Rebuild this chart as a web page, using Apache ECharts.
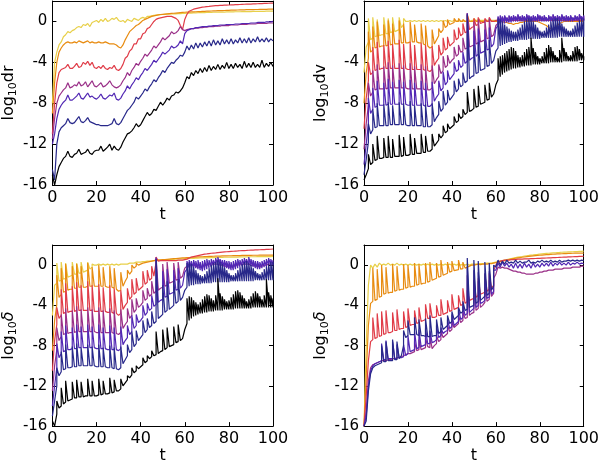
<!DOCTYPE html>
<html>
<head>
<meta charset="utf-8">
<script src="https://cdn.jsdelivr.net/npm/echarts@6/dist/echarts.min.js"></script>
<style>
  html, body { margin: 0; padding: 0; background: #fff; }
  #chart { width: 602px; height: 465px; }
</style>
</head>
<body>
<div id="chart"></div>
<script>
// sample times t = 0..100, one per unit
const t = Array.from({ length: 101 }, (_, i) => i);

const yTicks = [-16, -12, -8, -4, 0];
const xTicks = [0, 20, 40, 60, 80, 100];

// ---------- panel 1: log10 dr ----------
const dr_k = [
  -15, -16, -15, -14.2, -13.8, -13.4, -13.2, -12.7, -13.2, -13.3,
  -13.0, -12.9, -12.5, -13.0, -12.9, -12.8, -12.5, -12.9, -13.0, -12.7,
  -12.6, -12.6, -12.2, -12.7, -12.5, -12.3, -12.0, -12.6, -12.2, -12.5,
  -12.6, -12.3, -11.8, -11.4, -11.0, -10.9, -10.7, -10.4, -10.0, -10.3,
  -10.1, -9.7, -9.3, -8.9, -9.2, -9.0, -8.6, -8.7, -8.3, -7.9,
  -8.2, -7.9, -7.5, -7.7, -7.3, -7.2, -6.9, -7.0, -6.8, -6.5,
  -6.0, -5.4, -5.6, -5.0, -5.3, -4.8, -5.1, -4.6, -5.0, -4.5,
  -4.9, -4.3, -4.8, -4.4, -4.7, -4.2, -4.7, -4.3, -4.6, -4.0,
  -4.6, -4.2, -4.6, -4.1, -4.5, -4.2, -4.6, -3.9, -4.5, -4.1,
  -4.5, -4.0, -4.5, -4.2, -4.5, -3.8, -4.5, -4.1, -4.4, -4.0,
  -4.4
];
const dr_b = [
  -14.5, -15.5, -12.0, -10.8, -10.4, -10.2, -10.0, -9.5, -9.9, -10.0,
  -9.9, -9.6, -9.3, -9.8, -9.9, -9.7, -9.4, -9.8, -9.9, -10.0,
  -10.1, -10.1, -10.2, -10.2, -10.2, -10.2, -10.1, -10.0, -9.5, -10.0,
  -10.1, -9.9, -9.5, -9.1, -8.7, -8.5, -8.2, -7.9, -7.4, -7.6,
  -7.3, -7.0, -6.6, -6.8, -6.4, -6.1, -5.7, -5.9, -5.5, -5.2,
  -4.8, -5.0, -4.6, -4.3, -4.0, -4.1, -3.8, -3.6, -3.3, -3.4,
  -3.0, -2.4, -2.8, -2.3, -2.7, -2.1, -2.6, -2.1, -2.5, -2.0,
  -2.4, -1.9, -2.4, -1.8, -2.3, -1.9, -2.3, -1.7, -2.2, -1.8,
  -2.2, -1.7, -2.2, -1.8, -2.1, -1.6, -2.1, -1.7, -2.1, -1.6,
  -2.1, -1.7, -2.0, -1.5, -2.0, -1.7, -2.0, -1.6, -2.0, -1.7,
  -1.9
];
const dr_v = [
  -12, -11, -9.5, -8.6, -8.2, -7.9, -7.7, -7.2, -7.7, -7.7,
  -7.5, -7.3, -7.0, -7.5, -7.6, -7.3, -7.0, -7.4, -7.3, -7.5,
  -7.6, -7.4, -7.1, -7.5, -7.6, -7.4, -7.2, -7.3, -7.0, -7.6,
  -7.7, -7.5, -7.1, -6.8, -6.3, -6.6, -6.2, -5.9, -5.5, -5.7,
  -5.3, -5.0, -4.6, -4.8, -4.5, -4.2, -3.8, -4.0, -3.7, -3.4,
  -3.0, -3.2, -3.0, -2.8, -2.4, -2.6, -2.5, -2.3, -1.9, -2.2,
  -1.2, -0.9, -0.8, -0.7, -0.7, -0.6, -0.6, -0.55, -0.5, -0.5,
  -0.5, -0.45, -0.45, -0.4, -0.4, -0.4, -0.35, -0.35, -0.35, -0.3,
  -0.3, -0.3, -0.3, -0.25, -0.25, -0.25, -0.2, -0.2, -0.2, -0.2,
  -0.15, -0.15, -0.15, -0.1, -0.1, -0.1, -0.1, -0.05, -0.05, -0.05,
  0
];
const dr_m = [
  -11.5, -9.5, -8.0, -7.3, -7.0, -6.7, -6.5, -6.0, -6.5, -6.4,
  -6.2, -6.3, -5.9, -6.3, -6.2, -5.9, -6.4, -6.1, -5.8, -6.3,
  -6.4, -6.2, -6.0, -6.4, -6.3, -6.1, -5.8, -6.2, -6.4, -6.5,
  -6.4, -6.2, -5.8, -5.5, -5.0, -5.3, -4.8, -4.5, -4.1, -4.3,
  -3.9, -3.6, -3.2, -3.4, -3.1, -2.8, -2.4, -2.6, -2.3, -2.0,
  -1.6, -1.8, -1.6, -1.4, -1.0, -1.2, -1.1, -0.9, -0.5, -0.8,
  -0.9, -0.8, -0.75, -0.7, -0.7, -0.65, -0.65, -0.6, -0.6, -0.55,
  -0.55, -0.5, -0.5, -0.5, -0.45, -0.45, -0.45, -0.4, -0.4, -0.4,
  -0.4, -0.35, -0.35, -0.35, -0.35, -0.3, -0.3, -0.3, -0.3, -0.25,
  -0.25, -0.25, -0.25, -0.2, -0.2, -0.2, -0.2, -0.2, -0.15, -0.15,
  -0.15
];
const dr_r = [
  -11, -8, -6, -5, -4.7, -4.6, -4.5, -4.2, -4.6, -4.6,
  -4.4, -4.1, -4.5, -4.4, -4.0, -4.2, -3.9, -4.3, -4.0, -4.5,
  -4.6, -4.4, -4.6, -4.3, -4.6, -4.7, -4.5, -4.6, -4.3, -4.7,
  -4.8, -4.6, -4.2, -3.6, -3.4, -2.9, -2.7, -2.2, -2.2, -1.7,
  -1.7, -1.2, -1.1, -0.7, -0.6, -0.3, 0.0, 0.2, 0.3, 0.35,
  0.4, 0.45, 0.5, 0.5, 0.5, 0.4, 0.3, 0.1, -0.4, -0.8,
  0.2, 0.7, 1.0, 1.1, 1.2, 1.25, 1.3, 1.35, 1.4, 1.42,
  1.45, 1.47, 1.5, 1.52, 1.54, 1.55, 1.57, 1.58, 1.59, 1.6,
  1.61, 1.62, 1.63, 1.64, 1.65, 1.66, 1.67, 1.68, 1.69, 1.7,
  1.7, 1.71, 1.72, 1.73, 1.74, 1.75, 1.76, 1.77, 1.78, 1.79,
  1.8
];
const dr_o = [
  -9, -6, -4, -3, -2.6, -2.3, -2.1, -2.0, -2.1, -2.1,
  -2.0, -2.1, -1.9, -2.0, -2.1, -2.0, -1.9, -2.1, -2.0, -2.1,
  -2.1, -2.0, -2.1, -2.1, -2.0, -2.1, -2.2, -2.2, -2.2, -2.3,
  -2.5, -2.6, -2.3, -1.8, -1.4, -1.0, -0.8, -0.6, -0.4, -0.3,
  -0.1, 0.1, 0.2, 0.3, 0.4, 0.5, 0.55, 0.6, 0.65, 0.68,
  0.7, 0.72, 0.74, 0.76, 0.78, 0.8, 0.82, 0.84, 0.86, 0.88,
  0.9, 0.91, 0.92, 0.93, 0.94, 0.95, 0.96, 0.97, 0.98, 0.99,
  1.0, 1.01, 1.02, 1.03, 1.04, 1.05, 1.06, 1.06, 1.07, 1.08,
  1.09, 1.1, 1.1, 1.11, 1.12, 1.13, 1.13, 1.14, 1.15, 1.15,
  1.16, 1.16, 1.17, 1.17, 1.18, 1.18, 1.19, 1.19, 1.2, 1.2,
  1.2
];
const dr_y = [
  -8, -4, -3, -2.3, -2.0, -1.5, -1.3, -1.0, -1.1, -0.9,
  -0.8, -0.6, -0.5, -0.6, -0.3, -0.4, -0.2, -0.5, -0.1, 0.0,
  0.1, -0.1, 0.2, 0.0, 0.3, 0.0, 0.1, 0.3, 0.2, 0.4,
  0.1, 0.0, 0.1, -0.1, 0.2, 0.1, 0.0, 0.3, 0.2, 0.1,
  0.3, 0.4, 0.3, 0.5, 0.5, 0.55, 0.6, 0.62, 0.64, 0.66,
  0.68, 0.7, 0.71, 0.72, 0.73, 0.74, 0.75, 0.76, 0.77, 0.78,
  0.79, 0.8, 0.81, 0.82, 0.83, 0.84, 0.85, 0.86, 0.86, 0.87,
  0.88, 0.88, 0.89, 0.9, 0.9, 0.91, 0.91, 0.92, 0.92, 0.93,
  0.93, 0.94, 0.94, 0.95, 0.95, 0.95, 0.96, 0.96, 0.97, 0.97,
  0.97, 0.98, 0.98, 0.98, 0.99, 0.99, 0.99, 1.0, 1.0, 1.0,
  1.0
];

// spike times shared by panels 2 and 3 (early kicks, then one per unit after t = 60)
const spikeT = [
  2, 4, 6, 9, 11, 13, 16, 18, 21, 23, 26, 28, 31, 34, 36, 38, 41, 43, 45, 47, 50, 52, 55, 57,
  61, 62, 63, 64, 65, 66, 67, 68, 69, 70, 71, 72, 73, 74, 75, 76, 77, 78, 79, 80,
  81, 82, 83, 84, 85, 86, 87, 88, 89, 90, 91, 92, 93, 94, 95, 96, 97, 98, 99, 100
];

// ---------- panel 2: log10 dv (baseline + spike peaks) ----------
const dv_k = [
  -15.5, -15.0, -14.4, -14.0, -13.8, -13.6, -13.5, -13.4, -13.4, -13.3,
  -13.3, -13.3, -13.3, -13.3, -13.2, -13.2, -13.2, -13.2, -13.1, -13.1,
  -13.1, -13.0, -13.0, -13.0, -12.9, -12.9, -12.9, -12.8, -12.8, -12.7,
  -12.7, -12.5, -12.2, -11.9, -11.6, -11.4, -11.1, -10.9, -10.7, -10.5,
  -10.3, -10.1, -9.9, -9.7, -9.5, -9.3, -9.1, -8.9, -8.8, -8.7,
  -8.5, -8.4, -8.3, -8.1, -8.0, -7.9, -7.7, -7.6, -7.4, -7.1,
  -6.2, -5.7, -5.4, -5.2, -5.0, -4.9, -4.8, -4.7, -4.6, -4.6,
  -4.5, -4.5, -4.4, -4.4, -4.3, -4.3, -4.3, -4.2, -4.2, -4.2,
  -4.2, -4.1, -4.1, -4.1, -4.1, -4.0, -4.0, -4.0, -4.0, -4.0,
  -4.0, -3.9, -3.9, -3.9, -3.9, -3.9, -3.9, -3.9, -3.8, -3.8,
  -3.8
];
const dv_k_pk = [
  -13.0, -12.0, -11.2, -11.4, -11.2, -11.5, -11.1, -11.3, -11.0, -11.4, -11.0, -11.2,
  -11.0, -11.0, -10.2, -10.0, -9.3, -9.0, -8.6, -6.9, -6.6, -6.3, -6.2, -6.0,
  -3.6, -3.4, -3.3, -3.1, -2.9, -2.7, -2.5, -2.6, -2.9, -3.3,
  -3.5, -3.3, -3.0, -2.7, -2.5, -1.6, -2.6, -3.0, -3.4, -3.6,
  -3.4, -3.0, -2.6, -2.3, -2.5, -2.9, -3.3, -3.5, -2.8, -1.6,
  -2.6, -3.0, -3.4, -3.3, -2.9, -2.5, -2.4, -2.7, -3.1, -3.4
];
const dv_b = [
  -15.0, -13.5, -11.8, -11.0, -10.6, -10.4, -10.3, -10.2, -10.2, -10.2,
  -10.2, -10.2, -10.1, -10.1, -10.1, -10.1, -10.1, -10.1, -10.1, -10.1,
  -10.2, -10.2, -10.2, -10.2, -10.2, -10.2, -10.2, -10.3, -10.3, -10.3,
  -10.3, -10.1, -9.8, -9.4, -9.1, -8.8, -8.5, -8.2, -7.9, -7.7,
  -7.4, -7.1, -6.9, -6.6, -6.4, -6.2, -6.0, -5.8, -5.6, -5.4,
  -5.3, -5.1, -5.0, -4.8, -4.7, -4.6, -4.4, -4.3, -4.1, -3.8,
  -2.9, -2.6, -2.4, -2.3, -2.2, -2.1, -2.0, -2.0, -1.9, -1.9,
  -1.9, -1.8, -1.8, -1.8, -1.8, -1.7, -1.7, -1.7, -1.7, -1.7,
  -1.7, -1.6, -1.6, -1.6, -1.6, -1.6, -1.6, -1.6, -1.6, -1.5,
  -1.5, -1.5, -1.5, -1.5, -1.5, -1.5, -1.5, -1.5, -1.5, -1.5,
  -1.5
];
const dv_b_pk = [
  -10.0, -8.6, -8.0, -8.1, -7.9, -8.2, -7.9, -8.0, -7.8, -8.2, -8.0, -8.1,
  -8.0, -7.8, -6.8, -6.7, -5.8, -5.6, -5.0, 0.7, -2.3, -2.0, -1.9, -1.8,
  0.3, 0.2, 0.0, -0.3, -0.5, -0.7, -0.9, -1.0, -1.0, -0.8,
  -0.6, -0.3, 0.0, 0.2, 0.3, 0.2, 0.0, -0.3, -0.6, -0.9,
  -1.0, -0.9, -0.6, -0.3, 0.0, 0.2, 0.3, 0.3, 0.1, -0.2,
  -0.5, -0.7, -0.9, -0.9, -0.7, -0.4, -0.1, 0.1, 0.3, 0.3
];
const dv_v = [
  -14.0, -12.0, -10.0, -9.0, -8.6, -8.4, -8.3, -8.2, -8.2, -8.2,
  -8.2, -8.1, -8.1, -8.1, -8.1, -8.1, -8.1, -8.1, -8.1, -8.1,
  -8.2, -8.2, -8.2, -8.2, -8.2, -8.2, -8.2, -8.2, -8.3, -8.3,
  -8.3, -8.1, -7.8, -7.4, -7.1, -6.8, -6.5, -6.2, -5.9, -5.7,
  -5.4, -5.1, -4.9, -4.7, -4.5, -4.3, -4.1, -3.9, -3.8, -3.6,
  -3.5, -3.4, -3.2, -3.1, -3.0, -2.9, -2.8, -2.7, -2.5, -2.2,
  -0.7, -0.4, -0.3, -0.2, -0.2, -0.1, -0.1, -0.1, 0.0, 0.0,
  0.0, 0.0, 0.0, 0.0, 0.0, 0.0, 0.0, 0.0, 0.0, 0.0,
  0.0, 0.0, 0.0, 0.0, 0.0, 0.0, 0.0, 0.0, 0.0, 0.0,
  0.0, 0.0, 0.0, 0.0, 0.0, 0.0, 0.1, 0.1, 0.1, 0.1,
  0.1
];
const dv_v_pk = [
  -7.5, -6.5, -5.8, -6.0, -5.6, -5.9, -5.7, -5.9, -5.7, -6.0, -5.8, -6.0,
  -5.9, -5.8, -4.9, -4.8, -4.0, -3.8, -3.0, 0.8, -0.9, -0.7, -0.8, -0.6,
  0.5, 0.6, 0.5, 0.6, 0.4, 0.6, 0.5, 0.6, 0.5, 0.7,
  0.5, 0.6, 0.5, 0.7, 0.6, 0.5, 0.6, 0.5, 0.7, 0.6,
  0.5, 0.6, 0.4, 0.6, 0.5, 0.7, 0.5, 0.6, 0.5, 0.7,
  0.5, 0.6, 0.5, 0.6, 0.4, 0.6, 0.5, 0.7, 0.5, 0.6
];
const dv_m = [
  -12.5, -10.0, -8.2, -7.3, -6.9, -6.7, -6.6, -6.6, -6.6, -6.6,
  -6.6, -6.5, -6.5, -6.5, -6.5, -6.5, -6.5, -6.5, -6.5, -6.5,
  -6.6, -6.6, -6.6, -6.6, -6.6, -6.6, -6.6, -6.6, -6.7, -6.7,
  -6.7, -6.5, -6.1, -5.7, -5.4, -5.1, -4.8, -4.5, -4.3, -4.1,
  -3.8, -3.6, -3.4, -3.2, -3.0, -2.9, -2.7, -2.6, -2.5, -2.4,
  -2.3, -2.2, -2.1, -2.0, -1.9, -1.8, -1.7, -1.6, -1.5, -1.3,
  -0.4, -0.2, -0.1, -0.1, 0.0, 0.0, 0.0, 0.1, 0.1, 0.1,
  0.1, 0.1, 0.1, 0.1, 0.1, 0.1, 0.1, 0.1, 0.1, 0.1,
  0.1, 0.1, 0.1, 0.1, 0.1, 0.1, 0.1, 0.1, 0.1, 0.1,
  0.1, 0.1, 0.1, 0.1, 0.1, 0.1, 0.1, 0.1, 0.1, 0.1,
  0.1
];
const dv_m_pk = [
  -6.0, -4.8, -4.2, -4.4, -4.0, -4.3, -4.1, -4.3, -4.1, -4.4, -4.2, -4.4,
  -4.3, -4.2, -3.4, -3.3, -2.5, -2.3, -1.6, 0.8, 0.0, 0.2, 0.1, 0.3,
  0.4, 0.5, 0.4, 0.5, 0.3, 0.5, 0.4, 0.5, 0.4, 0.6,
  0.4, 0.5, 0.4, 0.6, 0.5, 0.4, 0.5, 0.4, 0.6, 0.5,
  0.4, 0.5, 0.3, 0.5, 0.4, 0.6, 0.4, 0.5, 0.4, 0.6,
  0.4, 0.5, 0.4, 0.5, 0.3, 0.5, 0.4, 0.6, 0.4, 0.5
];
const dv_r = [
  -10.5, -7.5, -5.8, -5.2, -5.0, -4.8, -4.7, -4.7, -4.6, -4.6,
  -4.6, -4.6, -4.6, -4.6, -4.6, -4.6, -4.6, -4.6, -4.6, -4.6,
  -4.7, -4.7, -4.7, -4.7, -4.7, -4.7, -4.7, -4.7, -4.8, -4.8,
  -4.9, -4.7, -4.3, -3.9, -3.6, -3.3, -3.0, -2.8, -2.6, -2.4,
  -2.2, -2.0, -1.8, -1.6, -1.4, -1.2, -1.1, -1.0, -0.8, -0.6,
  -0.5, -0.4, -0.3, -0.2, -0.1, -0.1, 0.0, 0.0, 0.0, 0.0,
  0.1, 0.1, 0.1, 0.1, 0.1, 0.1, 0.1, 0.1, 0.1, 0.1,
  0.1, 0.1, 0.1, 0.1, 0.1, 0.1, 0.1, 0.1, 0.1, 0.1,
  0.1, 0.1, 0.1, 0.1, 0.1, 0.1, 0.1, 0.1, 0.1, 0.1,
  0.1, 0.1, 0.1, 0.1, 0.1, 0.1, 0.1, 0.1, 0.1, 0.1,
  0.1
];
const dv_r_pk = [
  -4.0, -2.5, -2.0, -2.3, -1.9, -2.2, -1.8, -2.2, -2.0, -2.3, -2.1, -2.3,
  -2.4, -2.3, -1.6, -1.5, -0.8, -0.6, -0.2, 0.8, 0.3, 0.4, 0.3, 0.4
];
const dv_o = [
  -8.0, -5.0, -3.6, -3.0, -2.8, -2.6, -2.5, -2.5, -2.4, -2.4,
  -2.4, -2.3, -2.3, -2.2, -2.2, -2.2, -2.2, -2.1, -2.1, -2.1,
  -2.1, -2.0, -2.0, -2.0, -2.0, -2.1, -2.1, -2.2, -2.3, -2.4,
  -2.6, -2.5, -2.2, -1.8, -1.4, -1.1, -0.8, -0.6, -0.4, -0.3,
  -0.2, -0.1, 0.0, 0.0, 0.0, 0.0, 0.0, 0.0, 0.0, 0.0,
  0.0, 0.0, 0.0, 0.0, 0.0, 0.0, 0.0, 0.0, 0.0, 0.0,
  0.0, 0.0, 0.0, 0.0, -0.1, -0.1, -0.2, -0.2, -0.3, -0.2,
  -0.2, -0.1, -0.1, 0.0, 0.0, 0.0, 0.0, 0.0, 0.0, 0.0,
  -0.1, -0.2, -0.3, -0.4, -0.6, -0.7, -0.8, -0.6, -0.4, -0.2,
  -0.1, 0.0, 0.0, 0.0, 0.0, 0.0, 0.0, 0.0, 0.0, 0.0,
  0.0
];
const dv_o_pk = [
  -1.0, -0.5, 0.0, -0.3, 0.1, -0.2, 0.1, -0.2, 0.0, -0.3, -0.2, -0.4,
  -0.8, -0.7, 0.1, 0.2, 0.3, 0.3, 0.2, 0.6, 0.3, 0.3, 0.2, 0.3
];
const dv_y = [
  -5.0, -2.5, -2.0, -1.8, -1.6, -1.5, -1.4, -1.4, -1.3, -1.3,
  -1.2, -1.2, -1.1, -1.0, -1.0, -0.9, -0.8, -0.6, -0.3, 0.0,
  0.0, 0.1, 0.0, 0.1, 0.0, 0.1, 0.0, 0.1, 0.0, 0.1,
  0.0, 0.1, 0.0, 0.1, 0.0, 0.1, 0.0, 0.1, 0.0, 0.1,
  0.0, 0.1, 0.0, 0.1, 0.0, 0.1, 0.0, 0.1, 0.0, 0.1,
  0.1, 0.1, 0.1, 0.1, 0.1, 0.1, 0.1, 0.1, 0.1, 0.1,
  0.1, 0.1, 0.1, 0.1, 0.1, 0.1, 0.1, 0.1, 0.1, 0.1,
  0.1, 0.1, 0.1, 0.1, 0.1, 0.1, 0.1, 0.1, 0.1, 0.1,
  0.1, 0.1, 0.1, 0.1, 0.1, 0.1, 0.1, 0.1, 0.1, 0.1,
  0.1, 0.1, 0.1, 0.1, 0.1, 0.1, 0.1, 0.1, 0.1, 0.1,
  0.1
];
const dv_y_pk = [0.3, 0.4, 0.2, 0.4, 0.3, 0.4, 0.4, 0.3];

// ---------- panel 3: log10 delta (baseline + spike peaks) ----------
const d1_k = [
  -15.5, -16.0, -14.8, -14.2, -14.0, -13.8, -13.6, -13.5, -13.4, -13.3,
  -13.2, -13.2, -13.1, -13.1, -13.1, -13.0, -13.0, -13.0, -13.0, -13.0,
  -13.0, -12.9, -12.9, -12.8, -12.8, -12.8, -12.7, -12.7, -12.6, -12.5,
  -12.5, -12.3, -12.0, -11.7, -11.4, -11.2, -10.9, -10.7, -10.5, -10.3,
  -10.1, -9.9, -9.7, -9.5, -9.3, -9.1, -9.0, -8.9, -8.8, -8.6,
  -8.5, -8.4, -8.2, -8.1, -8.0, -7.9, -7.7, -7.6, -7.5, -7.3,
  -6.4, -5.8, -5.5, -5.3, -5.1, -5.0, -4.9, -4.8, -4.8, -4.7,
  -4.7, -4.6, -4.6, -4.6, -4.5, -4.5, -4.5, -4.5, -4.4, -4.4,
  -4.4, -4.4, -4.4, -4.3, -4.3, -4.3, -4.3, -4.3, -4.3, -4.3,
  -4.3, -4.2, -4.2, -4.2, -4.2, -4.2, -4.2, -4.2, -4.2, -4.2,
  -4.2
];
const d1_k_pk = [
  -13.5, -12.2, -11.5, -11.6, -11.4, -11.6, -11.3, -11.5, -11.3, -11.5, -11.2, -11.4,
  -11.3, -11.0, -10.2, -10.0, -9.2, -9.0, -8.5, -6.6, -6.4, -6.2, -6.1, -5.9,
  -3.3, -3.1, -3.2, -3.5, -3.7, -3.9, -3.7, -3.4, -3.1, -2.9,
  -3.0, -3.3, -3.5, -3.0, -1.3, -2.8, -3.1, -3.4, -3.6, -3.5,
  -3.2, -2.9, -2.6, -2.5, -2.7, -3.0, -3.3, -3.6, -3.4, -3.1,
  -2.8, -2.6, -2.8, -3.1, -3.4, -3.0, -1.4, -2.7, -3.0, -3.3
];
const d1_b = [
  -15.0, -13.5, -12.0, -11.0, -10.6, -10.4, -10.3, -10.2, -10.2, -10.1,
  -10.1, -10.1, -10.0, -10.0, -10.0, -10.0, -10.0, -10.0, -10.0, -10.0,
  -10.1, -10.1, -10.1, -10.1, -10.1, -10.2, -10.2, -10.2, -10.3, -10.3,
  -10.4, -10.2, -9.8, -9.4, -9.0, -8.7, -8.4, -8.1, -7.8, -7.5,
  -7.2, -6.9, -6.7, -6.4, -6.2, -6.0, -5.8, -5.6, -5.3, -5.1,
  -4.9, -4.7, -4.5, -4.4, -4.2, -4.0, -3.8, -3.6, -3.5, -3.2,
  -2.5, -2.2, -2.1, -2.0, -2.0, -1.9, -1.9, -1.9, -1.8, -1.8,
  -1.8, -1.8, -1.8, -1.7, -1.7, -1.7, -1.7, -1.7, -1.7, -1.7,
  -1.7, -1.6, -1.6, -1.6, -1.6, -1.6, -1.6, -1.6, -1.6, -1.6,
  -1.6, -1.6, -1.5, -1.5, -1.5, -1.5, -1.5, -1.5, -1.5, -1.5,
  -1.5
];
const d1_b_pk = [
  -10.2, -8.6, -7.9, -8.1, -7.8, -8.2, -7.9, -8.1, -7.9, -8.2, -8.0, -8.2,
  -8.1, -7.9, -6.6, -6.5, -5.5, -5.3, -4.6, 0.6, -2.0, -1.6, -1.5, -1.4,
  0.2, 0.3, 0.1, -0.2, -0.5, -0.8, -1.0, -1.1, -0.9, -0.6,
  -0.3, 0.0, 0.2, 0.3, 0.5, 0.3, 0.1, -0.2, -0.5, -0.8,
  -1.0, -1.0, -0.8, -0.5, -0.2, 0.1, 0.3, 0.4, 0.2, 0.0,
  -0.3, -0.6, -0.8, -0.9, -0.7, -0.4, -0.1, 0.1, 0.3, 0.3
];
const d1_v = [
  -14.0, -12.0, -10.2, -9.2, -8.8, -8.6, -8.5, -8.4, -8.4, -8.3,
  -8.3, -8.3, -8.2, -8.2, -8.2, -8.2, -8.2, -8.2, -8.2, -8.2,
  -8.3, -8.3, -8.3, -8.3, -8.3, -8.4, -8.4, -8.4, -8.4, -8.4,
  -8.5, -8.3, -7.9, -7.5, -7.2, -6.9, -6.6, -6.3, -6.0, -5.7,
  -5.5, -5.2, -5.0, -4.7, -4.5, -4.3, -4.1, -3.9, -3.7, -3.5,
  -3.4, -3.2, -3.1, -2.9, -2.8, -2.7, -2.5, -2.4, -2.3, -2.0,
  -0.7, -0.4, -0.3, -0.3, -0.3, -0.3, -0.4, -0.5, -0.6, -0.5,
  -0.4, -0.3, -0.2, -0.1, 0.0, 0.0, 0.0, -0.1, -0.2, -0.3,
  -0.4, -0.5, -0.5, -0.4, -0.3, -0.2, -0.1, 0.0, 0.0, 0.0,
  -0.1, -0.2, -0.3, -0.4, -0.4, -0.3, -0.2, -0.1, 0.0, 0.0,
  0.0
];
const d1_v_pk = [
  -7.8, -6.6, -6.0, -6.2, -5.9, -6.1, -5.9, -6.1, -5.9, -6.2, -6.0, -6.2,
  -6.1, -6.0, -5.0, -4.9, -4.0, -3.8, -3.0, 0.7, -0.6, -0.4, -0.5, -0.3,
  0.4, 0.5, 0.4, 0.5, 0.4, 0.5, 0.3, 0.4, 0.5, 0.6,
  0.5, 0.6, 0.5, 0.7, 0.8, 0.6, 0.5, 0.5, 0.4, 0.4,
  0.3, 0.4, 0.5, 0.6, 0.5, 0.6, 0.7, 0.6, 0.8, 0.6,
  0.5, 0.4, 0.4, 0.3, 0.4, 0.5, 0.6, 0.7, 0.6, 0.5
];
const d1_m = [
  -12.5, -10.0, -8.4, -7.5, -7.1, -6.9, -6.8, -6.8, -6.7, -6.7,
  -6.7, -6.6, -6.6, -6.6, -6.6, -6.6, -6.6, -6.6, -6.6, -6.6,
  -6.7, -6.7, -6.7, -6.7, -6.7, -6.7, -6.7, -6.7, -6.8, -6.8,
  -6.9, -6.7, -6.3, -5.9, -5.6, -5.3, -5.0, -4.7, -4.4, -4.2,
  -4.0, -3.7, -3.5, -3.3, -3.1, -2.9, -2.8, -2.6, -2.5, -2.3,
  -2.2, -2.1, -2.0, -1.8, -1.7, -1.6, -1.5, -1.4, -1.3, -1.1,
  -0.3, -0.1, 0.0, 0.0, 0.0, -0.1, -0.2, -0.2, -0.1, 0.0,
  0.0, 0.1, 0.1, 0.1, 0.1, 0.1, 0.0, 0.0, -0.1, -0.1,
  -0.2, -0.2, -0.1, 0.0, 0.0, 0.1, 0.1, 0.1, 0.1, 0.1,
  0.0, 0.0, -0.1, -0.1, -0.2, -0.1, 0.0, 0.0, 0.1, 0.1,
  0.1
];
const d1_m_pk = [
  -6.2, -4.9, -4.3, -4.5, -4.1, -4.4, -4.2, -4.4, -4.2, -4.5, -4.3, -4.5,
  -4.4, -4.3, -3.4, -3.3, -2.5, -2.3, -1.6, 0.8, 0.1, 0.3, 0.2, 0.3
];
const d1_r = [
  -10.5, -7.5, -5.9, -5.3, -5.0, -4.8, -4.7, -4.7, -4.6, -4.6,
  -4.6, -4.5, -4.5, -4.5, -4.5, -4.5, -4.5, -4.5, -4.5, -4.6,
  -4.6, -4.6, -4.6, -4.6, -4.6, -4.7, -4.7, -4.7, -4.8, -4.8,
  -5.0, -4.8, -4.4, -4.0, -3.7, -3.4, -3.1, -2.9, -2.7, -2.5,
  -2.3, -2.1, -1.9, -1.7, -1.5, -1.3, -1.1, 0.3, 0.4, 0.45,
  0.45, 0.45, 0.45, 0.45, 0.45, 0.45, 0.45, 0.5, 0.5, 0.5,
  0.55, 0.6, 0.7, 0.8, 0.85, 0.9, 0.95, 1.0, 1.05, 1.1,
  1.12, 1.15, 1.18, 1.2, 1.22, 1.25, 1.27, 1.29, 1.31, 1.33,
  1.35, 1.37, 1.38, 1.4, 1.41, 1.43, 1.44, 1.45, 1.46, 1.48,
  1.49, 1.5, 1.51, 1.52, 1.53, 1.54, 1.55, 1.56, 1.57, 1.58,
  1.6
];
const d1_r_pk = [
  -4.2, -2.4, -1.8, -2.1, -1.7, -2.0, -1.6, -2.0, -1.9, -2.2, -2.0, -2.3,
  -2.5, -2.3, -1.4, -1.3, -0.6, -0.5, -0.1, 0.8
];
const d1_o = [
  -8.5, -5.5, -3.9, -3.2, -2.9, -2.7, -2.6, -2.5, -2.4, -2.4,
  -2.3, -2.3, -2.2, -2.2, -2.2, -2.2, -2.1, -2.1, -2.1, -2.1,
  -2.1, -2.1, -2.1, -2.1, -2.1, -2.2, -2.2, -2.2, -2.3, -2.4,
  -2.6, -2.5, -2.1, -1.6, -1.2, -0.9, -0.6, -0.3, -0.1, 0.0,
  0.1, 0.2, 0.25, 0.3, 0.35, 0.4, 0.45, 0.5, 0.5, 0.52,
  0.54, 0.56, 0.58, 0.6, 0.62, 0.64, 0.66, 0.68, 0.7, 0.72,
  0.73, 0.75, 0.76, 0.78, 0.79, 0.8, 0.81, 0.82, 0.83, 0.84,
  0.85, 0.86, 0.87, 0.88, 0.89, 0.9, 0.9, 0.91, 0.92, 0.92,
  0.93, 0.93, 0.94, 0.94, 0.95, 0.95, 0.96, 0.96, 0.97, 0.97,
  0.97, 0.98, 0.98, 0.98, 0.99, 0.99, 0.99, 1.0, 1.0, 1.0,
  1.0
];
const d1_o_pk = [
  -1.0, -0.3, 0.1, -0.1, 0.1, -0.1, 0.2, -0.2, 0.0, -0.2, -0.1, -0.3,
  -0.7, -0.5, 0.0, 0.2
];
const d1_y = [
  -5.0, -2.0, -1.8, -1.6, -1.5, -1.4, -1.3, -1.2, -1.1, -1.0,
  -0.9, -0.9, -0.8, -0.8, -0.7, -0.6, -0.5, -0.4, -0.2, 0.0,
  0.0, 0.1, 0.0, 0.1, 0.0, 0.1, 0.0, 0.1, 0.0, 0.1,
  0.0, 0.1, 0.1, 0.1, 0.1, 0.2, 0.2, 0.2, 0.3, 0.3,
  0.3, 0.35, 0.35, 0.4, 0.4, 0.4, 0.45, 0.45, 0.5, 0.5,
  0.5, 0.52, 0.54, 0.55, 0.57, 0.58, 0.6, 0.61, 0.62, 0.63,
  0.64, 0.65, 0.66, 0.67, 0.68, 0.69, 0.7, 0.71, 0.72, 0.72,
  0.73, 0.74, 0.74, 0.75, 0.76, 0.76, 0.77, 0.77, 0.78, 0.78,
  0.79, 0.79, 0.8, 0.8, 0.8, 0.81, 0.81, 0.82, 0.82, 0.82,
  0.83, 0.83, 0.83, 0.84, 0.84, 0.84, 0.85, 0.85, 0.85, 0.85,
  0.86
];
const d1_y_pk = [0.2, 0.3, 0.2, 0.3, 0.2, 0.3, 0.3, 0.1];

// ---------- panel 4: log10 delta, second run (baseline + spike peaks) ----------
const spikeT4 = [4, 6, 8, 10, 13, 15, 18, 20, 23, 25, 28, 30, 33, 35, 38, 40, 43, 45, 47, 50, 52, 55, 57, 59];

const d2_b = [
  -16, -15.5, -12.5, -10.8, -10.2, -10.0, -9.9, -9.8, -9.7, -9.6,
  -9.6, -9.5, -9.5, -9.5, -9.4, -9.4, -9.3, -9.0, -8.0, -7.2,
  -7.0, -6.9, -6.9, -6.9, -6.9, -7.0, -7.0, -7.0, -7.1, -7.1,
  -7.1, -7.1, -7.0, -7.0, -6.8, -6.6, -6.4, -6.2, -6.0, -5.8,
  -5.6, -5.4, -5.2, -5.0, -4.8, -4.6, -4.5, -4.4, -4.2, -4.1,
  -4.0, -3.8, -3.6, -3.5, -3.3, -3.1, -3.0, -2.8, -2.5, -2.1,
  -0.2, 0.5, 0.0, 0.4, 0.1, 0.5, 0.2, 0.3, 0.2, 0.5,
  0.2, 0.4, 0.2, 0.3, 0.3, 0.5, 0.2, 0.3, 0.2, 0.4,
  0.3, 0.5, 0.3, 0.4, 0.3, 0.5, 0.3, 0.4, 0.3, 0.5,
  0.3, 0.4, 0.4, 0.5, 0.4, 0.5, 0.4, 0.5, 0.4, 0.5,
  0.45
];
const d2_b_pk = [
  null, null, -8.0, -7.6, -7.4, -7.6, -6.5, -5.5, -5.2, -5.4, -5.3, -5.0,
  -5.4, -5.2, -5.0, -4.6, -4.2, -3.6, 0.7, 0.5, 0.4, 0.3, 0.2, 0.0
];
const d2_v = [
  -16, -15.0, -12.0, -10.5, -10.0, -9.8, -9.7, -9.6, -9.5, -9.4,
  -9.4, -9.3, -9.3, -9.3, -9.3, -9.3, -9.2, -9.2, -9.1, -9.0,
  -8.8, -8.6, -8.5, -8.4, -8.3, -8.2, -8.1, -8.0, -7.9, -7.8,
  -7.8, -7.7, -7.6, -7.4, -7.2, -7.0, -6.8, -6.6, -6.5, -6.3,
  -6.1, -6.0, -5.8, -5.6, -5.4, -5.2, -5.0, -4.8, -4.7, -4.5,
  -4.3, -4.2, -4.0, -3.8, -3.7, -3.5, -3.3, -3.2, -2.9, -2.6,
  -0.5, 0.2, -0.2, 0.3, -0.1, 0.2, -0.2, 0.1, -0.3, 0.2,
  -0.3, 0.1, -0.3, 0.2, -0.2, 0.1, -0.3, 0.2, -0.2, 0.1,
  -0.2, 0.2, -0.1, 0.2, -0.1, 0.3, -0.1, 0.2, 0.0, 0.3,
  0.0, 0.2, 0.0, 0.3, 0.0, 0.2, 0.1, 0.3, 0.1, 0.2,
  0.15
];
const d2_v_pk = [
  null, null, -7.8, -7.5, -7.6, -7.9, -7.9, -7.0, -6.6, -6.4, -6.3, -6.5,
  -6.0, -6.2, -5.4, -4.9, -4.3, -4.0, -0.2, -0.5, -0.7, -0.8, -0.6, -0.5
];
const d2_m = [
  -16, -14.5, -11.5, -10.2, -9.9, -9.8, -9.7, -9.6, -9.5, -9.5,
  -9.5, -9.4, -9.4, -9.3, -9.3, -9.2, -9.2, -9.1, -9.0, -8.9,
  -8.8, -8.8, -8.7, -8.6, -8.5, -8.4, -8.4, -8.3, -8.2, -8.1,
  -8.2, -8.3, -8.0, -7.8, -7.6, -7.4, -7.2, -7.0, -6.8, -6.6,
  -6.4, -6.2, -6.0, -5.8, -5.7, -5.5, -5.3, -5.2, -5.0, -4.8,
  -4.7, -4.5, -4.3, -4.2, -4.0, -3.7, -3.6, -3.4, -3.1, -2.8,
  -0.9, -0.2, -0.3, -0.2, -0.3, -0.3, -0.4, -0.5, -0.6, -0.6,
  -0.7, -0.7, -0.8, -0.8, -0.9, -0.9, -0.9, -0.9, -0.8, -0.8,
  -0.7, -0.7, -0.6, -0.6, -0.5, -0.5, -0.5, -0.4, -0.4, -0.4,
  -0.4, -0.3, -0.3, -0.3, -0.3, -0.2, -0.2, -0.2, -0.2, -0.1,
  -0.1
];
const d2_m_pk = [
  null, null, null, null, null, null, null, null, -7.6, -7.4, -7.2, -7.0,
  -7.0, -6.5, -6.0, -5.6, -5.0, -4.6, -1.0, -1.5, -1.6, -1.8, -1.5, -1.3
];
const d2_r = [
  -16, -13, -9.5, -7.6, -7.4, -7.3, -7.2, -7.1, -7.0, -6.9,
  -6.8, -6.7, -6.7, -6.6, -6.5, -6.5, -6.4, -6.3, -6.3, -6.2,
  -6.1, -6.0, -5.9, -5.9, -5.8, -5.7, -5.6, -5.5, -5.4, -5.3,
  -5.3, -5.2, -5.2, -5.1, -5.0, -5.0, -4.9, -4.8, -4.7, -4.6,
  -4.5, -4.4, -4.3, -4.2, -4.0, -3.9, -3.8, -3.6, -3.5, -3.4,
  -3.3, -3.2, -3.0, -2.9, -2.8, -2.7, -2.6, -2.4, -2.3, -2.0,
  0.0, 0.3, 0.4, 0.45, 0.5, 0.5, 0.5, 0.55, 0.55, 0.55,
  0.6, 0.6, 0.6, 0.62, 0.62, 0.63, 0.64, 0.65, 0.66, 0.67,
  0.68, 0.69, 0.7, 0.71, 0.72, 0.73, 0.74, 0.75, 0.76, 0.77,
  0.78, 0.79, 0.8, 0.81, 0.82, 0.83, 0.84, 0.85, 0.86, 0.87,
  0.88
];
const d2_r_pk = [
  -5.2, -4.8, -4.6, -4.5, -4.7, -4.4, -4.6, -4.3, -4.5, -4.2, -3.9, -3.8,
  -4.0, -3.4, -3.5, -2.9, -3.0, -2.3, -2.5, -1.5, -1.3, -0.9, -0.8, -0.5
];
const d2_o = [
  -16, -11, -6, -3.8, -3.6, -3.5, -3.4, -3.2, -3.1, -2.9,
  -2.8, -2.8, -2.7, -2.7, -2.6, -2.5, -2.5, -2.4, -2.4, -2.3,
  -2.2, -2.2, -2.1, -2.1, -2.0, -1.9, -1.9, -1.8, -1.8, -1.7,
  -1.6, -1.5, -1.4, -1.3, -1.2, -1.1, -1.0, -0.9, -0.8, -0.7,
  -0.6, -0.55, -0.5, -0.45, -0.4, -0.35, -0.3, -0.2, -0.1, 0.0,
  0.0, 0.05, 0.1, 0.05, 0.1, 0.1, 0.1, 0.15, 0.15, 0.2,
  0.25, 0.3, 0.35, 0.4, 0.45, 0.5, 0.55, 0.6, 0.64, 0.68,
  0.72, 0.75, 0.78, 0.81, 0.84, 0.87, 0.9, 0.92, 0.94, 0.96,
  0.98, 1.0, 1.02, 1.04, 1.05, 1.07, 1.08, 1.1, 1.11, 1.12,
  1.13, 1.14, 1.15, 1.16, 1.17, 1.18, 1.19, 1.19, 1.2, 1.2,
  1.2
];
const d2_o_pk = [
  -0.3, -0.4, 0.0, -0.2, 0.1, -0.1, 0.1, 0.0, 0.2, 0.1, 0.2, 0.3,
  0.2, 0.5, 0.3, 0.4, 0.5, 0.3
];
const d2_y = [
  -16, -8, -2.0, 0.0, -0.3, 0.1, -0.2, 0.2, 0.0, 0.1,
  0.0, 0.2, 0.0, 0.1, 0.0, 0.2, 0.0, 0.1, 0.0, 0.1,
  0.0, 0.1, 0.0, 0.1, 0.0, 0.1, 0.0, 0.1, 0.0, 0.1,
  0.0, 0.1, 0.0, 0.1, 0.0, 0.1, 0.0, 0.1, 0.0, 0.1,
  0.0, 0.1, 0.0, 0.1, 0.0, 0.1, 0.0, 0.1, 0.0, 0.1,
  0.1, 0.1, 0.1, 0.15, 0.15, 0.15, 0.2, 0.2, 0.2, 0.25,
  0.3, 0.35, 0.4, 0.45, 0.5, 0.55, 0.6, 0.65, 0.7, 0.75,
  0.8, 0.83, 0.86, 0.9, 0.93, 0.96, 1.0, 1.02, 1.05, 1.07,
  1.1, 1.12, 1.14, 1.16, 1.18, 1.2, 1.22, 1.23, 1.25, 1.26,
  1.28, 1.29, 1.3, 1.31, 1.32, 1.33, 1.34, 1.35, 1.36, 1.37,
  1.4
];

const colors = {
  y: '#e8d04a', o: '#e88c12', r: '#e03c48', m: '#9a3088',
  v: '#5228b4', b: '#28288a', k: '#000000'
};

// panels: grid box, y label, series (drawn in this order): [colour, baseline, spike times, spike peaks]
const panels = [
  { left: 48, top: 1, width: 225, height: 184, label: 'dr', italic: false,
    lines: [['y', dr_y], ['o', dr_o], ['r', dr_r], ['m', dr_m], ['v', dr_v], ['b', dr_b], ['k', dr_k]] },
  { left: 364, top: 1, width: 224, height: 184, label: 'dv', italic: false,
    lines: [['y', dv_y, spikeT, dv_y_pk], ['o', dv_o, spikeT, dv_o_pk], ['r', dv_r, spikeT, dv_r_pk],
            ['m', dv_m, spikeT, dv_m_pk], ['v', dv_v, spikeT, dv_v_pk], ['b', dv_b, spikeT, dv_b_pk],
            ['k', dv_k, spikeT, dv_k_pk]] },
  { left: 48, top: 245, width: 225, height: 184, label: 'δ', italic: true,
    lines: [['y', d1_y, spikeT, d1_y_pk], ['o', d1_o, spikeT, d1_o_pk], ['r', d1_r, spikeT, d1_r_pk],
            ['m', d1_m, spikeT, d1_m_pk], ['v', d1_v, spikeT, d1_v_pk], ['b', d1_b, spikeT, d1_b_pk],
            ['k', d1_k, spikeT, d1_k_pk]] },
  { left: 364, top: 245, width: 224, height: 184, label: 'δ', italic: true,
    lines: [['y', d2_y], ['o', d2_o, spikeT4, d2_o_pk], ['r', d2_r, spikeT4, d2_r_pk],
            ['m', d2_m, spikeT4, d2_m_pk], ['v', d2_v, spikeT4, d2_v_pk], ['b', d2_b, spikeT4, d2_b_pk]] }
];

// a kick: the line jumps straight up to the peak at its time, then falls back to the next baseline sample
function withSpikes(base, times, peaks) {
  const out = [];
  t.forEach((x, j) => {
    out.push([x, base[j]]);
    if (!times) return;
    const k = times.indexOf(x);
    if (k >= 0 && peaks[k] != null) out.push([x, peaks[k]]);
  });
  return out;
}

const font = 'DejaVu Sans';
const axLine = { show: true, onZero: false, lineStyle: { color: '#000', width: 1 } };
const tick = { show: true, inside: true, length: 4, lineStyle: { color: '#000', width: 1 } };

const grid = [], xAxis = [], yAxis = [], series = [];

panels.forEach((p, i) => {
  grid.push({ left: p.left, top: p.top, width: p.width, height: p.height, containLabel: false });

  const xBase = {
    gridIndex: i, type: 'value', min: xTicks[0], max: xTicks[xTicks.length - 1],
    interval: xTicks[1] - xTicks[0], axisLine: axLine, axisTick: tick, splitLine: { show: false }
  };
  xAxis.push(Object.assign({}, xBase, {
    position: 'bottom',
    axisLabel: { color: '#000', fontSize: 16, fontFamily: font, margin: 5 },
    name: 't', nameLocation: 'middle', nameGap: 20,
    nameTextStyle: { color: '#000', fontSize: 16, fontFamily: font }
  }));
  xAxis.push(Object.assign({}, xBase, { position: 'top', axisLabel: { show: false } }));

  const yBase = {
    gridIndex: i, type: 'value', min: yTicks[0], max: 2,
    interval: yTicks[1] - yTicks[0], axisLine: axLine, axisTick: tick, splitLine: { show: false }
  };
  yAxis.push(Object.assign({}, yBase, {
    position: 'left',
    axisLabel: {
      color: '#000', fontSize: 15, fontFamily: font, margin: 5,
      formatter: v => (yTicks.indexOf(v) >= 0 ? String(v) : '')
    },
    name: '{a|log}{s|10}{' + (p.italic ? 'i' : 'a') + '|' + p.label + '}',
    nameLocation: 'middle', nameRotate: 90, nameGap: 33,
    nameTextStyle: {
      color: '#000', fontFamily: font,
      rich: {
        a: { fontSize: 16, fontFamily: font, color: '#000', height: 20, verticalAlign: 'top' },
        i: { fontSize: 16, fontFamily: font, fontStyle: 'italic', color: '#000', height: 20, verticalAlign: 'top' },
        s: { fontSize: 11, fontFamily: font, color: '#000', verticalAlign: 'bottom' }
      }
    }
  }));
  yAxis.push(Object.assign({}, yBase, { position: 'right', axisLabel: { show: false } }));

  p.lines.forEach(([c, base, times, peaks]) => {
    series.push({
      type: 'line', xAxisIndex: 2 * i, yAxisIndex: 2 * i,
      data: withSpikes(base, times, peaks),
      showSymbol: false, symbol: 'none', silent: true,
      lineStyle: { color: colors[c], width: 1.2 }
    });
  });
});

const chart = echarts.init(document.getElementById('chart'), null, { renderer: 'canvas' });
chart.setOption({ animation: false, backgroundColor: '#fff', grid, xAxis, yAxis, series });
</script>
</body>
</html>
